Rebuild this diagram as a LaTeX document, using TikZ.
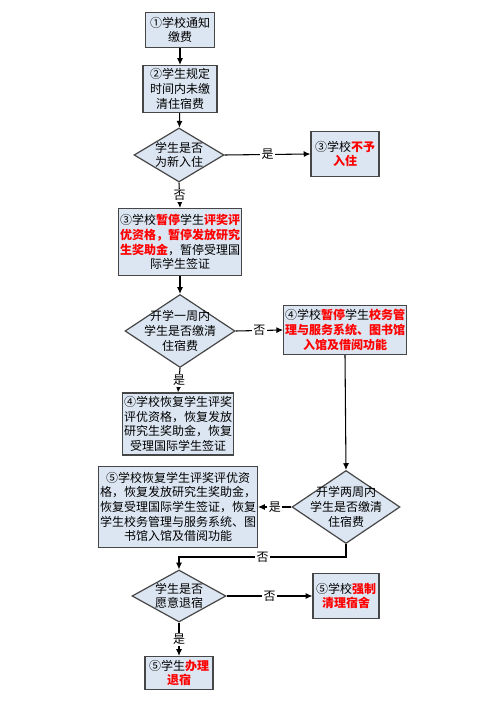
\documentclass[tikz,border=0pt]{standalone}
\usepackage{fontspec}
\setmainfont{Noto Sans CJK SC}
\usetikzlibrary{arrows.meta,shapes.geometric}
\definecolor{boxfill}{RGB}{220,230,242}
\definecolor{boxline}{RGB}{70,70,70}
\definecolor{hl}{RGB}{255,0,0}
\newcommand\hlt[1]{\textcolor{hl}{\textbf{#1}}}
\tikzset{
  procbox/.style={draw=boxline,fill=boxfill,line width=0.9pt,align=center,inner sep=1pt,
    font=\fontsize{9pt}{11pt}\selectfont},
  decbox/.style={draw=boxline,fill=boxfill,line width=0.9pt,shape=diamond,inner sep=0pt},
  dectext/.style={align=center,inner sep=0pt,font=\fontsize{9pt}{11pt}\selectfont},
  conn/.style={draw=black,line width=0.8pt,-{Latex[length=5pt,width=4.5pt]}},
  lbl/.style={fill=white,inner sep=1pt,font=\fontsize{9pt}{11pt}\selectfont}
}
\begin{document}
\begin{tikzpicture}[x=0.75pt,y=-0.75pt]
\path[use as bounding box,fill=white] (0,0) rectangle (500,702);
% process boxes
\node[procbox,minimum width=51.75pt,minimum height=26.25pt] (b1) at (180,30) {①学校通知\\缴费};
\node[procbox,minimum width=55.5pt,minimum height=35.25pt] (b2) at (180,89) {②学生规定\\时间内未缴\\清住宿费};
\node[procbox,minimum width=51pt,minimum height=33.75pt] (b3) at (345,154) {③学校\hlt{不予}\\\hlt{入住}};
\node[procbox,minimum width=88.5pt,minimum height=50.25pt] (b4) at (180,242) {③学校\hlt{暂停}学生\hlt{评奖评}\\\hlt{优资格，暂停发放研究}\\\hlt{生奖助金}，暂停受理国\\际学生签证};
\node[procbox,minimum width=89.25pt,minimum height=36.75pt] (b5) at (345,330) {④学校\hlt{暂停}学生\hlt{校务管}\\\hlt{理与服务系统、图书馆}\\\hlt{入馆及借阅功能}};
\node[procbox,minimum width=83.25pt,minimum height=46.5pt] (b6) at (178,424) {④学校恢复学生评奖\\评优资格，恢复发放\\研究生奖助金，恢复\\受理国际学生签证};
\node[procbox,minimum width=119.25pt,minimum height=60.75pt] (b7) at (178,507) {⑤学校恢复学生评奖评优资\\格，恢复发放研究生奖助金，\\恢复受理国际学生签证，恢复\\学生校务管理与服务系统、图\\书馆入馆及借阅功能};
\node[procbox,minimum width=49.5pt,minimum height=33.75pt] (b8) at (346,596) {⑤学校\hlt{强制}\\\hlt{清理宿舍}};
\node[procbox,minimum width=51pt,minimum height=24.75pt] (b9) at (179,673) {⑤学生\hlt{办理}\\\hlt{退宿}};
% decisions
\node[decbox,minimum width=67.5pt,minimum height=40.5pt] (d1) at (179,155) {};
\node[dectext] (d1t) at (d1) {学生是否\\为新入住};
\node[decbox,minimum width=82.5pt,minimum height=54.75pt] (d2) at (180,331) {};
\node[dectext] (d2t) at (d2) {开学一周内\\学生是否缴清\\住宿费};
\node[decbox,minimum width=81pt,minimum height=54.75pt] (d3) at (346,507) {};
\node[dectext] (d3t) at (d3) {开学两周内\\学生是否缴清\\住宿费};
\node[decbox,minimum width=70.5pt,minimum height=39pt] (d4) at (179,596) {};
\node[dectext] (d4t) at (d4) {学生是否\\愿意退宿};
% connectors
\draw[conn] (b1) -- (b2);
\draw[conn] (b2) -- (d1);
\draw[conn] (d1.east) -- node[lbl] (l1) {是} (b3.west);
\draw[conn] (d1.south) -- node[lbl] (l2) {否} (b4.north);
\draw[conn] (b4) -- (d2);
\draw[conn] (d2.east) -- node[lbl] (l3) {否} (b5.west);
\draw[conn] (d2.south) -- node[lbl] (l4) {是} (b6.north);
\draw[conn] (b5.south) -- (d3.north);
\draw[conn] (d3.west) -- node[lbl] (l5) {是} (b7.east);
\coordinate (c1) at (346,557);
\coordinate (c2) at (179,557);
\draw[conn] (d3.south) -- (c1) -- node[lbl,pos=0.5] (l6) {否} (c2) -- (d4.north);
\draw[conn] (d4.east) -- node[lbl] (l7) {否} (b8.west);
\draw[conn] (d4.south) -- node[lbl] (l8) {是} (b9.north);
\end{tikzpicture}
\end{document}
